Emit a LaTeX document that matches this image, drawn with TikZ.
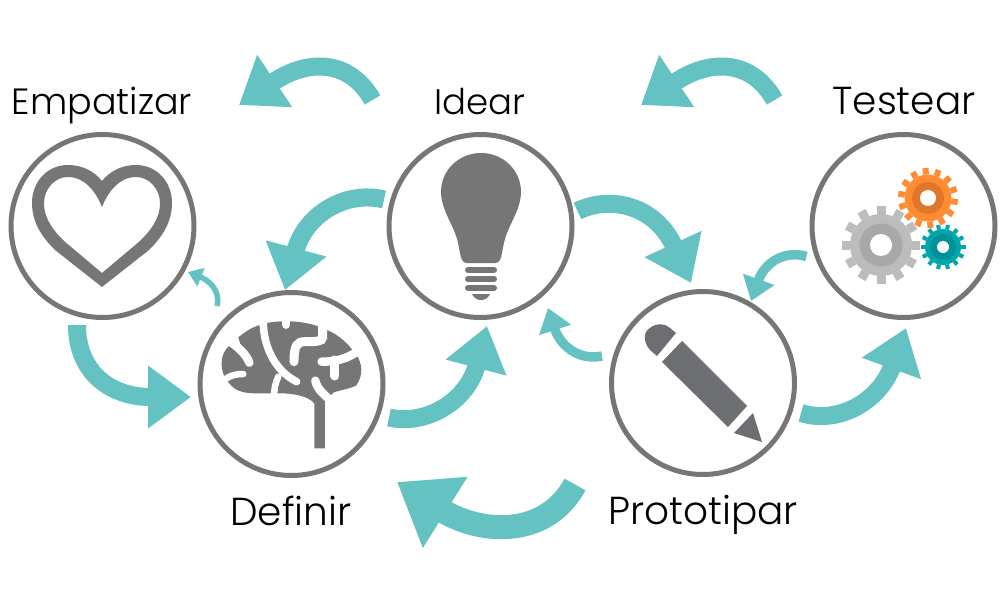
\documentclass[tikz,border=0pt]{standalone}
\usepackage{fontspec}
\setmainfont{Poppins}[UprightFont=* Light]
\usetikzlibrary{arrows.meta}
\definecolor{flowteal}{HTML}{64C2C2}
\definecolor{iconGray}{HTML}{767676}
\definecolor{penGray}{HTML}{6D6E71}
\definecolor{gearGray}{HTML}{BCBCBC}
\definecolor{gearGrayDark}{HTML}{A9A8A6}
\definecolor{gearOrange}{HTML}{FF8C33}
\definecolor{gearOrangeDark}{HTML}{E0762A}
\definecolor{gearTeal}{HTML}{00A6AC}
\definecolor{gearTealDark}{HTML}{00929A}
\tikzset{
  stage/.style={circle,draw=iconGray,fill=white,line width=5pt,minimum size=183pt,inner sep=0pt},
  stagetext/.style={anchor=base,inner sep=0pt,font=\fontsize{#1}{42}\selectfont,text=black},
  flowbig/.style={draw=flowteal,line width=18pt,-{Triangle[length=43pt,width=60pt]}},
  flowwide/.style={draw=flowteal,line width=24pt,-{Triangle[length=57pt,width=80pt]}},
  flowmid/.style={draw=flowteal,line width=9.5pt,-{Triangle[length=23pt,width=32pt]}},
  flowtiny/.style={draw=flowteal,line width=5.5pt,-{Triangle[length=14pt,width=19pt]}},
  fissure/.style={draw=white,line cap=round},
}
% one gear: centre, tooth radius, body radius, ring radius, hole radius, tooth width, teeth, turn, colours
\newcommand{\gearicon}[9]{
  \foreach \k in {1,...,#7} {
    \draw[#9,line width=#6pt] (#1,#2) ++ ({#8+\k*360/#7}:#4) -- ++ ({#8+\k*360/#7}:{#3-#4});
  }
  \fill[#9] (#1,#2) circle (#4);
}
\begin{document}
\begin{tikzpicture}[x=1pt,y=-1pt]
  \useasboundingbox (0,0) rectangle (1007,589);

  % stages
  \node[stage] (empatizar) at (102.5,226) {};
  \node[stage] (idear) at (480.5,226) {};
  \node[stage] (testear) at (903.5,226) {};
  \node[stage] (definir) at (291.5,384) {};
  \node[stage] (prototipar) at (703,383) {};

  \node[stagetext=36.5] (empatizarText) at (102,114) {Empatizar};
  \node[stagetext=35.5] (idearText) at (480,114) {Idear};
  \node[stagetext=39] (testearText) at (904,114) {Testear};
  \node[stagetext=39] (definirText) at (291,525) {Definir};
  \node[stagetext=39] (prototiparText) at (703,524) {Prototipar};

  % arrow ends
  \coordinate (empOut) at (77,325);
  \coordinate (defIn) at (191,397);
  \coordinate (defOut) at (389,417.5);
  \coordinate (ideIn) at (487,326);
  \coordinate (ideBack) at (384,199.5);
  \coordinate (defBackIn) at (285,290);
  \coordinate (ideOut) at (577.5,211);
  \coordinate (proIn) at (691,283);
  \coordinate (proOut) at (801,413);
  \coordinate (tesIn) at (906,328);
  \coordinate (defUp) at (217,306);
  \coordinate (empUpIn) at (188,272);
  \coordinate (proUp) at (602,356);
  \coordinate (ideUpIn) at (548,308);
  \coordinate (tesBack) at (806.5,256.5);
  \coordinate (proBackIn) at (751,301);
  \coordinate (topIdea) at (372.5,100);
  \coordinate (topIdeaEnd) at (239,105);
  \coordinate (topTest) at (774.5,100);
  \coordinate (topTestEnd) at (641,105);
  \coordinate (lowProto) at (575,484.5);
  \coordinate (lowProtoEnd) at (397,482);

  % arrows
  \draw[flowbig] (empOut) .. controls (77,372) and (110,397) .. (defIn);
  \draw[flowbig] (defOut) .. controls (425,426) and (467,402) .. (ideIn);
  \draw[flowbig] (ideBack) .. controls (345,190) and (305,215) .. (defBackIn);
  \draw[flowbig] (ideOut) .. controls (610,195) and (655,205) .. (proIn);
  \draw[flowbig] (proOut) .. controls (840,425) and (880,400) .. (tesIn);
  \draw[flowbig] (topIdea) .. controls (350,60) and (309,58) .. (topIdeaEnd);
  \draw[flowbig] (topTest) .. controls (752,60) and (711,58) .. (topTestEnd);
  \draw[flowwide] (lowProto) .. controls (545,540) and (478,533) .. (lowProtoEnd);
  \draw[flowmid] (proUp) .. controls (578,361) and (560,345) .. (ideUpIn);
  \draw[flowmid] (tesBack) .. controls (785,250) and (765,262) .. (proBackIn);
  \draw[flowtiny] (defUp) .. controls (221,290) and (208,280) .. (empUpIn);

  % heart
  \path[fill=iconGray,even odd rule]
    (102,181) .. controls (94,171) and (82,165) .. (68,165)
    .. controls (47,165) and (32,182) .. (32,203)
    .. controls (32,225) and (45,240) .. (55,250)
    -- (102,287) -- (149,250)
    .. controls (159,240) and (172,225) .. (172,203)
    .. controls (172,182) and (157,165) .. (136,165)
    .. controls (122,165) and (110,171) .. (102,181) -- cycle
    (102,207) .. controls (96,192) and (85,177) .. (68,177)
    .. controls (54,177) and (44,190) .. (44,203)
    .. controls (44,220) and (55,232) .. (64,241)
    -- (102,273) -- (140,241)
    .. controls (149,232) and (160,220) .. (160,203)
    .. controls (160,190) and (150,177) .. (136,177)
    .. controls (119,177) and (108,192) .. (102,207) -- cycle;

  % bulb
  \path[fill=iconGray]
    (481,153) .. controls (459,153) and (441,170) .. (441,192)
    .. controls (441,207) and (450,220) .. (455,233)
    .. controls (458,240) and (459,248) .. (460,253)
    .. controls (461,260) and (463,263) .. (467,263)
    -- (495,263)
    .. controls (499,263) and (501,260) .. (502,253)
    .. controls (503,248) and (504,240) .. (507,233)
    .. controls (512,220) and (521,207) .. (521,192)
    .. controls (521,170) and (503,153) .. (481,153) -- cycle;
  \foreach \y in {270,279,288} {
    \draw[iconGray,line width=6pt,line cap=round] (468,\y) -- (494,\y);
  }
  \path[fill=iconGray]
    (472,294) -- (490,294) .. controls (488,298) and (485,300) .. (481,300)
    .. controls (477,300) and (474,298) .. (472,294) -- cycle;

  % brain
  \begin{scope}[shift={(210,310)},x=0.3333pt,y=-0.3333pt]
    \path[fill=iconGray]
      (35,160) .. controls (35,135) and (45,118) .. (60,105) -- (100,130) -- (85,82)
      .. controls (100,70) and (120,55) .. (140,48) -- (175,38)
      .. controls (225,30) and (275,33) .. (322,48) -- (355,62)
      .. controls (380,72) and (400,90) .. (415,105) -- (440,135)
      .. controls (455,160) and (462,190) .. (440,225)
      .. controls (420,238) and (395,238) .. (370,248)
      -- (345,275) -- (345,415) -- (313,415) -- (313,280)
      .. controls (295,258) and (250,250) .. (210,250)
      -- (180,250) .. controls (140,250) and (90,255) .. (65,228)
      .. controls (42,205) and (35,185) .. (35,160) -- cycle;
    \draw[fissure,line width=8.5pt] (50,88) .. controls (85,110) and (110,135) .. (118,158);
    \draw[fissure,line width=6.5pt] (30,222) .. controls (50,200) and (70,192) .. (100,192);
    \draw[fissure,line width=7.5pt] (160,30) .. controls (158,100) and (190,180) .. (260,215);
    \draw[fissure,line width=6.5pt] (205,200) .. controls (195,220) and (192,240) .. (192,265);
    \draw[fissure,line width=8.5pt] (228,25) -- (228,44);
    \draw[fissure,line width=9pt] (338,40) -- (338,82) .. controls (338,95) and (315,95) .. (285,95)
      .. controls (262,95) and (252,105) .. (252,155);
    \draw[fissure,line width=8.5pt] (445,122) .. controls (415,145) and (380,155) .. (335,155);
    \draw[fissure,line width=9pt] (375,150) -- (375,198);
    \draw[fissure,line width=8.5pt] (316,212) .. controls (322,240) and (345,255) .. (362,272);
  \end{scope}

  % pencil
  \path[fill=penGray]
    (676,333) -- (657,356) -- (650,350)
    .. controls (643,342) and (643,332) .. (650,328)
    .. controls (656,323) and (665,323) .. (670,328) -- cycle;
  \path[fill=penGray] (682,341) -- (662,362) -- (728,427) -- (747,406) -- cycle;
  \path[fill=penGray] (753,413) -- (734,433) -- (762,442) -- cycle;

  % gears
  \gearicon{881}{245}{39}{31}{21.5}{9}{12}{0}{gearGray}
  \fill[gearGrayDark] (881,245) circle (21.5);
  \fill[white] (881,245) circle (11);
  \gearicon{928}{198}{30}{23.5}{16}{6}{14}{8}{gearOrange}
  \fill[gearOrangeDark] (928,198) circle (16);
  \fill[white] (928,198) circle (8);
  \gearicon{943}{247}{22.5}{18}{13}{4}{14}{0}{gearTeal}
  \fill[gearTealDark] (943,247) circle (13);
  \fill[white] (943,247) circle (6);
\end{tikzpicture}
\end{document}
